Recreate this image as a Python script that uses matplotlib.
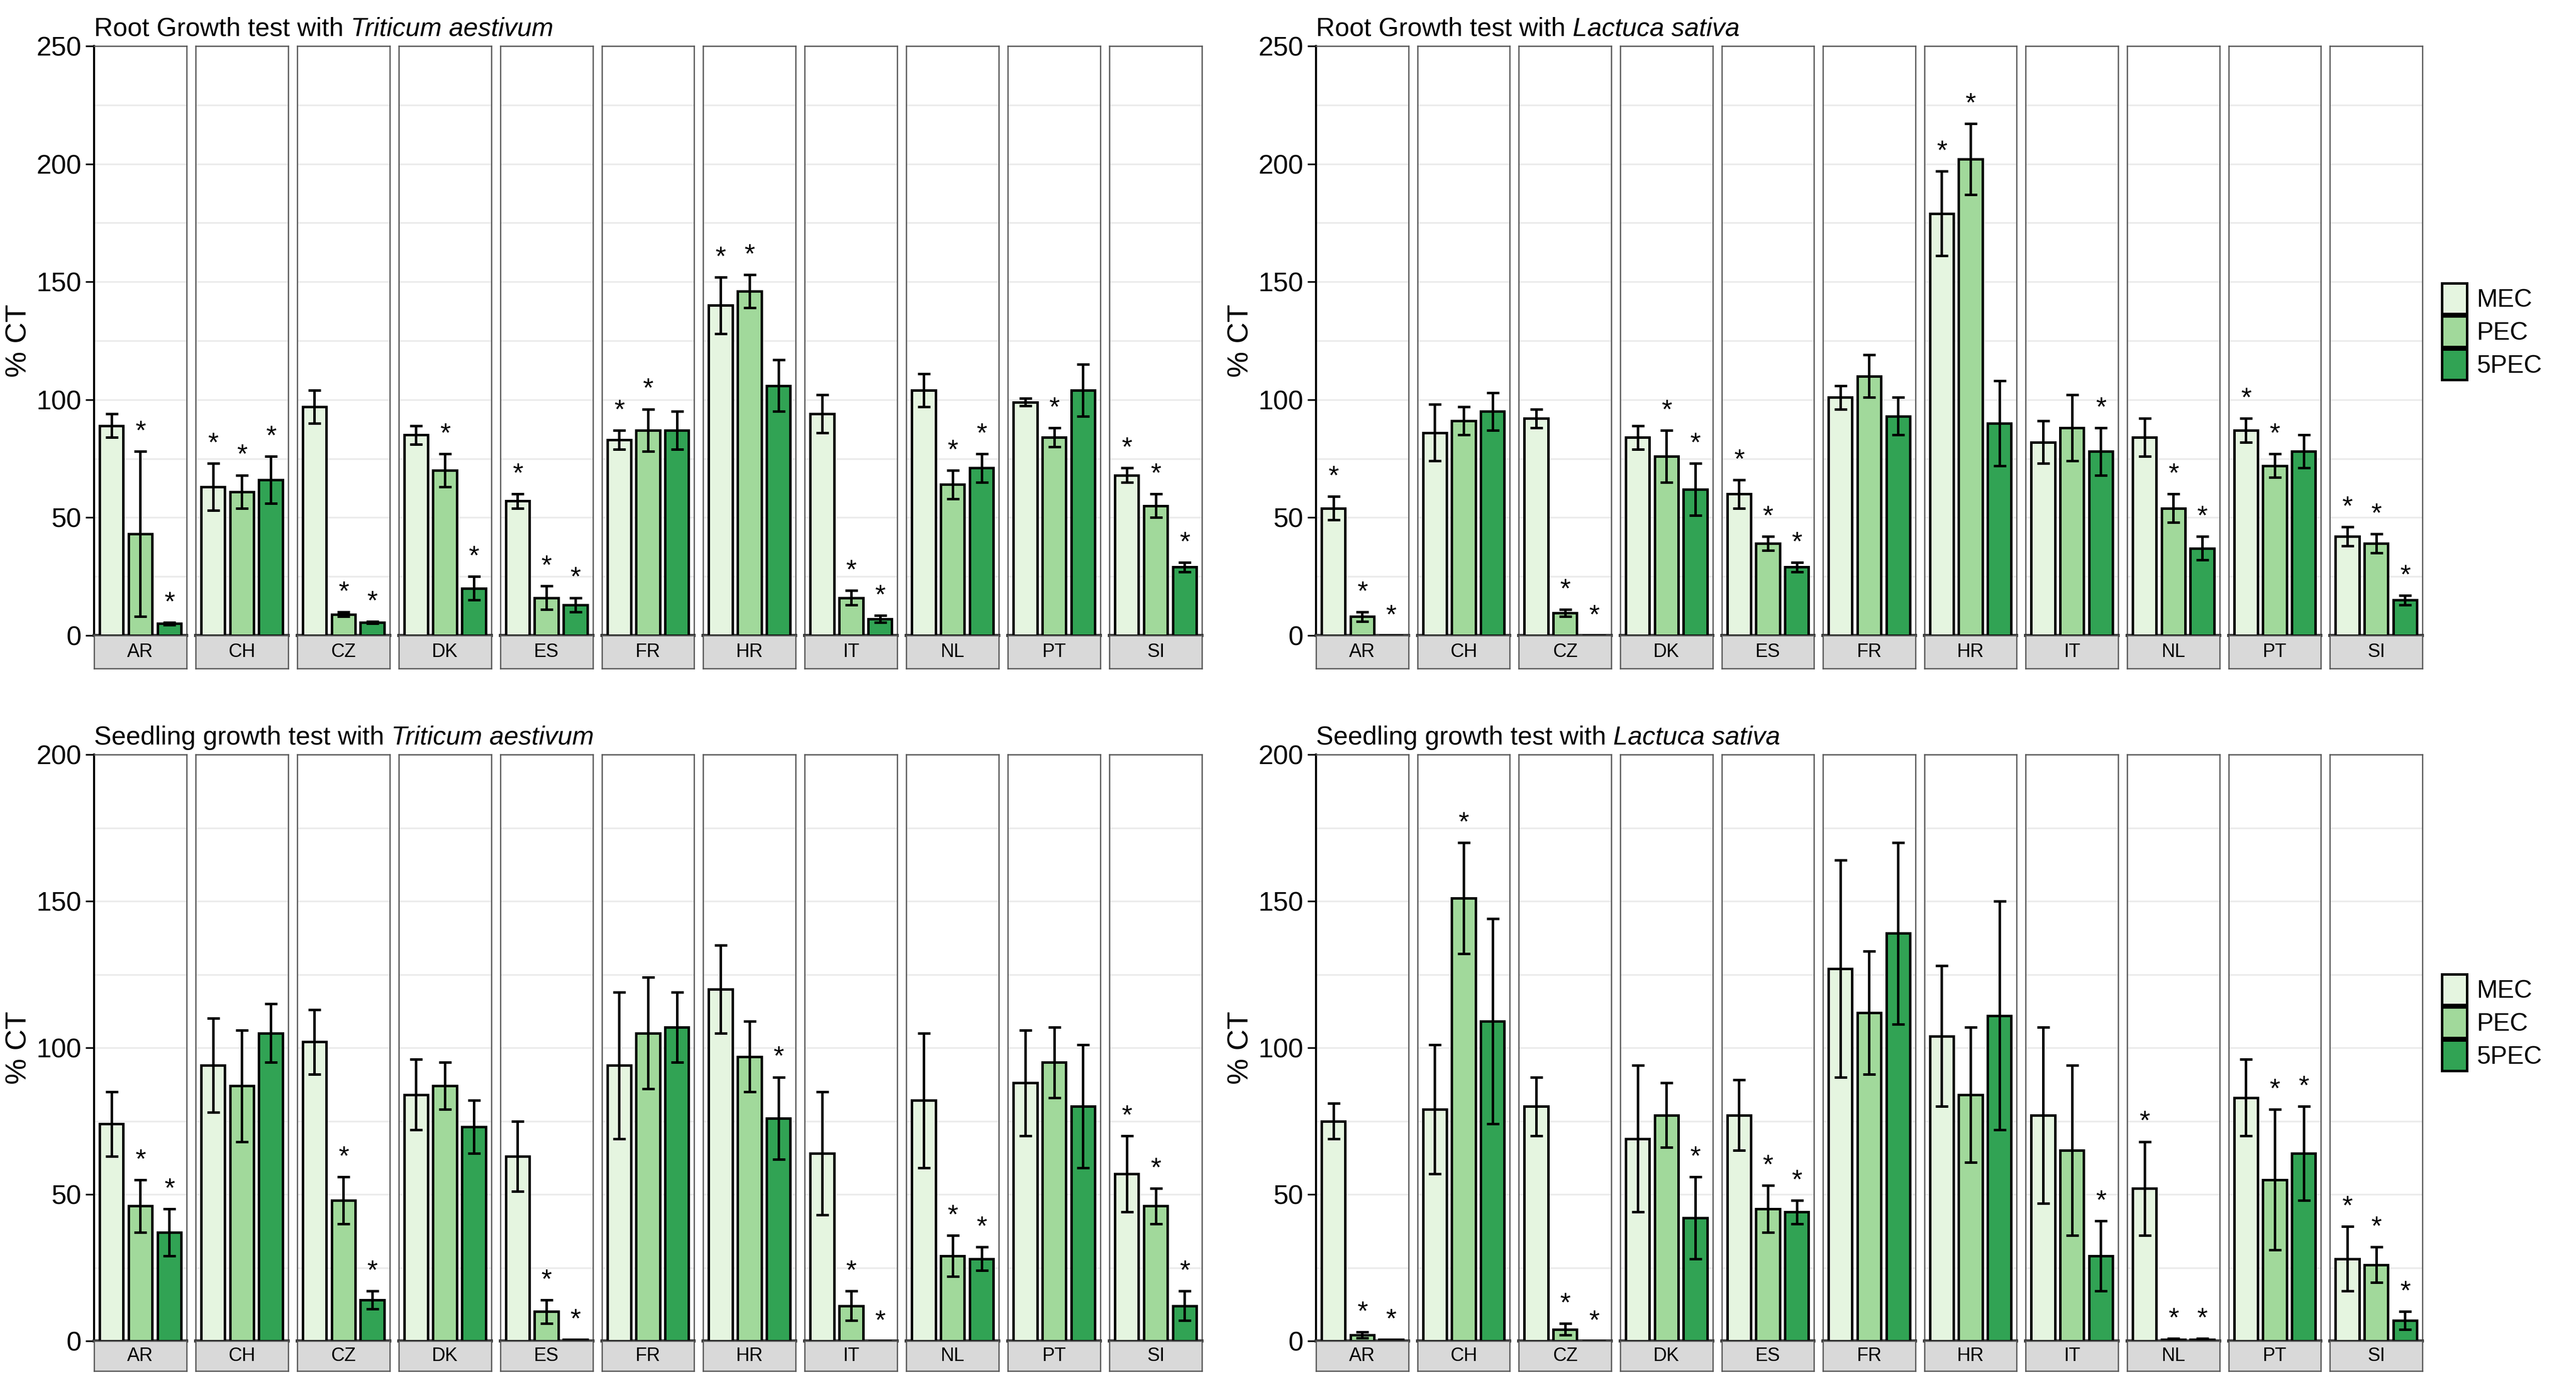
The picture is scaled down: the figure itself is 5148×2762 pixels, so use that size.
import matplotlib.pyplot as plt
import numpy as np

plt.rcParams['font.family'] = ['Liberation Sans', 'DejaVu Sans']

countries = ['AR', 'CH', 'CZ', 'DK', 'ES', 'FR', 'HR', 'IT', 'NL', 'PT', 'SI']
treatments = ['MEC', 'PEC', '5PEC']
colors = ['#e5f5e0', '#a1d99b', '#31a354']

# Root growth, Triticum aestivum
root_tri_mean = [[89, 43, 5], [63, 61, 66], [97, 9, 5.5], [85, 70, 20], [57, 16, 13], [83, 87, 87],
                 [140, 146, 106], [94, 16, 7], [104, 64, 71], [99, 84, 104], [68, 55, 29]]
root_tri_err = [[5, 35, 0.5], [10, 7, 10], [7, 1, 0.5], [4, 7, 5], [3, 5, 3], [4, 9, 8],
                [12, 7, 11], [8, 3, 1.5], [7, 6, 6], [1.5, 4, 11], [3, 5, 2]]
root_tri_sig = [[0, 1, 1], [1, 1, 1], [0, 1, 1], [0, 1, 1], [1, 1, 1], [1, 1, 0],
                [1, 1, 0], [0, 1, 1], [0, 1, 1], [0, 1, 0], [1, 1, 1]]

# Root growth, Lactuca sativa
root_lac_mean = [[54, 8, 0], [86, 91, 95], [92, 9.5, 0], [84, 76, 62], [60, 39, 29], [101, 110, 93],
                 [179, 202, 90], [82, 88, 78], [84, 54, 37], [87, 72, 78], [42, 39, 15]]
root_lac_err = [[5, 2, 0], [12, 6, 8], [4, 1.5, 0], [5, 11, 11], [6, 3, 2], [5, 9, 8],
                [18, 15, 18], [9, 14, 10], [8, 6, 5], [5, 5, 7], [4, 4, 2]]
root_lac_sig = [[1, 1, 1], [0, 0, 0], [0, 1, 1], [0, 1, 1], [1, 1, 1], [0, 0, 0],
                [1, 1, 0], [0, 0, 1], [0, 1, 1], [1, 1, 0], [1, 1, 1]]

# Seedling growth, Triticum aestivum
seed_tri_mean = [[74, 46, 37], [94, 87, 105], [102, 48, 14], [84, 87, 73], [63, 10, 0.5], [94, 105, 107],
                 [120, 97, 76], [64, 12, 0], [82, 29, 28], [88, 95, 80], [57, 46, 12]]
seed_tri_err = [[11, 9, 8], [16, 19, 10], [11, 8, 3], [12, 8, 9], [12, 4, 0], [25, 19, 12],
                [15, 12, 14], [21, 5, 0], [23, 7, 4], [18, 12, 21], [13, 6, 5]]
seed_tri_sig = [[0, 1, 1], [0, 0, 0], [0, 1, 1], [0, 0, 0], [0, 1, 1], [0, 0, 0],
                [0, 0, 1], [0, 1, 1], [0, 1, 1], [0, 0, 0], [1, 1, 1]]

# Seedling growth, Lactuca sativa
seed_lac_mean = [[75, 2, 0.5], [79, 151, 109], [80, 4, 0], [69, 77, 42], [77, 45, 44], [127, 112, 139],
                 [104, 84, 111], [77, 65, 29], [52, 0.5, 0.5], [83, 55, 64], [28, 26, 7]]
seed_lac_err = [[6, 1, 0], [22, 19, 35], [10, 2, 0], [25, 11, 14], [12, 8, 4], [37, 21, 31],
                [24, 23, 39], [30, 29, 12], [16, 0.3, 0.3], [13, 24, 16], [11, 6, 3]]
seed_lac_sig = [[0, 1, 1], [0, 1, 0], [0, 1, 1], [0, 0, 1], [0, 1, 1], [0, 0, 0],
                [0, 0, 0], [0, 0, 1], [1, 1, 1], [0, 1, 1], [1, 1, 1]]

panels = [
    ('Root Growth test with ', 'Triticum aestivum', root_tri_mean, root_tri_err, root_tri_sig, 250),
    ('Root Growth test with ', 'Lactuca sativa', root_lac_mean, root_lac_err, root_lac_sig, 250),
    ('Seedling growth test with ', 'Triticum aestivum', seed_tri_mean, seed_tri_err, seed_tri_sig, 200),
    ('Seedling growth test with ', 'Lactuca sativa', seed_lac_mean, seed_lac_err, seed_lac_sig, 200),
]

W, H = 5148, 2762
fig = plt.figure(figsize=(W / 300, H / 300), dpi=300)

# pixel boxes (left, right, top, zero line, strip bottom)
boxes = [(188, 2402, 92, 1270, 1336), (2630, 4841, 92, 1270, 1336),
         (188, 2402, 1508, 2680, 2740), (2630, 4841, 1508, 2680, 2740)]
n = len(countries)
gap = 18

for (pre, species, mean, err, sig, ymax), (l, r, t, z, sb) in zip(panels, boxes):
    fw = (r - l - gap * (n - 1)) / n
    for i, c in enumerate(countries):
        x0 = l + i * (fw + gap)
        ax = fig.add_axes([x0 / W, 1 - z / H, fw / W, (z - t) / H])
        xs = np.arange(3)
        ax.bar(xs, mean[i], width=0.82, color=colors, edgecolor='black', linewidth=1.2, zorder=3)
        e = np.array(err[i])
        ax.errorbar(xs, mean[i], yerr=e, fmt='none', ecolor='black', elinewidth=1.2,
                    capsize=3, capthick=1.2, zorder=4)
        for j in range(3):
            if sig[i][j]:
                ax.text(xs[j], mean[i][j] + err[i][j] + ymax * 0.012, '*', ha='center', va='bottom',
                        fontsize=13, zorder=5)
        ax.set_xlim(-0.6, 2.6)
        ax.set_ylim(0, ymax)
        ax.set_yticks(np.arange(0, ymax + 1, 50))
        ax.set_yticks(np.arange(25, ymax, 50), minor=True)
        ax.grid(axis='y', which='both', color='#ebebeb', linewidth=0.8, zorder=0)
        ax.set_axisbelow(True)
        ax.set_xticks([])
        for s in ax.spines.values():
            s.set_color('#555555')
            s.set_linewidth(0.6)
        ax.spines['bottom'].set_color('#333333')
        ax.spines['bottom'].set_linewidth(1.5)
        if i == 0:
            ax.spines['left'].set_color('black')
            ax.spines['left'].set_linewidth(1.0)
            ax.tick_params(axis='y', which='major', labelsize=13, length=4, pad=2)
            ax.tick_params(axis='y', which='minor', length=0)
            ax.set_ylabel('% CT', fontsize=14, labelpad=2)
            ax.text(0, 1.008, pre, transform=ax.transAxes, fontsize=12.5, va='bottom', ha='left')
        else:
            ax.tick_params(axis='y', which='both', left=False, labelleft=False)
        sax = fig.add_axes([x0 / W, 1 - sb / H, fw / W, (sb - z) / H])
        sax.set_facecolor('#d9d9d9')
        sax.set_xticks([])
        sax.set_yticks([])
        for s in sax.spines.values():
            s.set_color('#555555')
            s.set_linewidth(0.6)
        sax.text(0.5, 0.5, c, ha='center', va='center', fontsize=9, transform=sax.transAxes)
    # italic species part of title
    first = fig.axes[-2 * n]
    tt = first.texts[-1]
    fig.canvas.draw()
    bb = tt.get_window_extent()
    fig.text(bb.x1 / fig.dpi / fig.get_figwidth(), bb.y0 / fig.dpi / fig.get_figheight(),
             species, fontsize=12.5, style='italic', va='bottom', ha='left')

# legends
for ly in (0.26, 0.76):
    handles = [plt.Rectangle((0, 0), 1, 1, facecolor=c, edgecolor='black', linewidth=1.2) for c in colors]
    fig.legend(handles, treatments, loc='center left', bbox_to_anchor=(4880 / W, ly), frameon=False,
               fontsize=12, handlelength=1.0, handleheight=1.5, handletextpad=0.4, labelspacing=0.1,
               borderaxespad=0, borderpad=0)

fig.savefig('out.png', dpi=300, facecolor='white')
